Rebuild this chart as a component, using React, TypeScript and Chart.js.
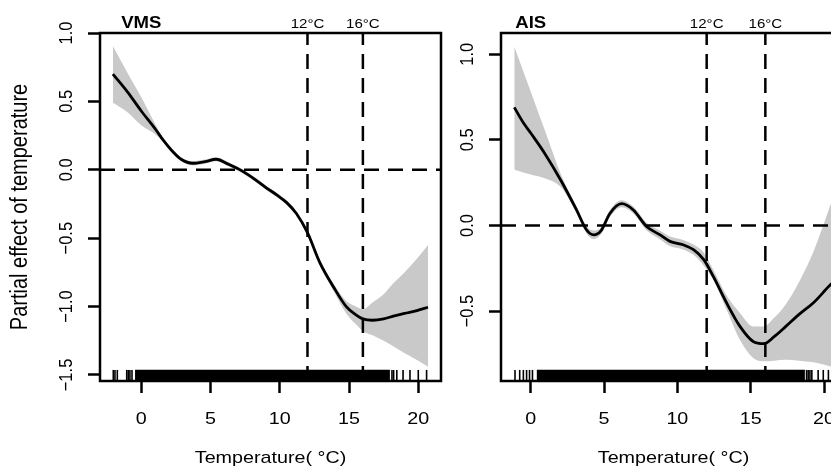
import React, { useEffect, useRef } from "react";
import { Chart, registerables } from "chart.js";

Chart.register(...registerables);

// ---------------- data ----------------
const xTicks = [0, 5, 10, 15, 20];
const refTemps = [12, 16];
const refLabels = ["12°C", "16°C"];
const xTitle = "Temperature( °C)";
const yTitle = "Partial effect of temperature";

// VMS panel
const vmsTemp = [-2.05, -1.0, 0.0, 1.0, 1.6, 2.3, 2.9, 3.7, 4.6, 5.4, 6.3, 7.3, 8.2, 9.0, 9.8, 10.5, 11.2, 12.0, 12.9, 13.9, 14.8, 15.5, 16.0, 16.7, 17.5, 18.2, 19.0, 19.9, 20.7];
const vmsFit = [0.70, 0.57, 0.43, 0.30, 0.215, 0.13, 0.075, 0.048, 0.06, 0.077, 0.04, -0.01, -0.07, -0.13, -0.185, -0.24, -0.32, -0.46, -0.68, -0.86, -1.0, -1.06, -1.09, -1.10, -1.09, -1.07, -1.05, -1.03, -1.005];
const vmsUpper = [0.905, 0.71, 0.53, 0.335, 0.228, 0.145, 0.09, 0.063, 0.075, 0.092, 0.055, 0.005, -0.055, -0.115, -0.17, -0.225, -0.305, -0.445, -0.66, -0.835, -0.96, -1.0, -1.02, -0.97, -0.91, -0.83, -0.75, -0.65, -0.55];
const vmsLower = [0.49, 0.42, 0.325, 0.26, 0.203, 0.115, 0.06, 0.033, 0.045, 0.062, 0.025, -0.025, -0.085, -0.145, -0.2, -0.255, -0.335, -0.475, -0.70, -0.89, -1.05, -1.13, -1.18, -1.21, -1.25, -1.29, -1.34, -1.39, -1.44];
const vmsRug = [-2.02, -1.9, -1.73, -1.05, -0.94, -0.82, -0.67, 18.1, 18.22, 18.45, 18.9, 19.4, 20.0, 20.6];
const vmsRugDense = [-0.45, 17.95];
const vmsYTicks = [-1.5, -1.0, -0.5, 0.0, 0.5, 1.0];

// AIS panel
const aisTemp = [-1.12, -0.5, 0.0, 1.0, 2.1, 3.1, 3.8, 4.3, 4.8, 5.4, 6.2, 7.0, 7.9, 8.8, 9.5, 10.4, 11.1, 11.8, 12.45, 13.36, 14.27, 15.17, 15.9, 16.6, 17.4, 18.3, 19.3, 20.4, 20.65];
const aisFit = [0.69, 0.60, 0.54, 0.415, 0.257, 0.095, -0.025, -0.055, -0.03, 0.07, 0.127, 0.09, -0.006, -0.054, -0.093, -0.113, -0.142, -0.2, -0.298, -0.453, -0.59, -0.678, -0.691, -0.65, -0.59, -0.52, -0.45, -0.35, -0.33];
const aisUpper = [1.046, 0.90, 0.782, 0.547, 0.29, 0.115, -0.005, -0.03, -0.01, 0.09, 0.147, 0.11, 0.016, -0.03, -0.065, -0.085, -0.112, -0.16, -0.259, -0.41, -0.512, -0.59, -0.59, -0.54, -0.46, -0.33, -0.15, 0.11, 0.17];
const aisLower = [0.325, 0.31, 0.298, 0.275, 0.22, 0.075, -0.045, -0.08, -0.05, 0.05, 0.107, 0.07, -0.028, -0.08, -0.12, -0.14, -0.172, -0.235, -0.317, -0.492, -0.668, -0.775, -0.794, -0.79, -0.785, -0.79, -0.80, -0.823, -0.83];
const aisRug = [-1.07, -0.75, -0.5, -0.28, -0.08, 0.12, 18.81, 18.92, 19.04, 19.17, 19.6, 19.95, 20.3, 20.6];
const aisRugDense = [0.4, 18.7];
const aisYTicks = [-0.5, 0.0, 0.5, 1.0];

// ---------------- styling ----------------
const FONT_FAMILY = '"Liberation Sans", Arial, Helvetica, sans-serif';
const SX = 1.16; // horizontal text stretch of the reference
const BAND = "#c9c9c9";

type Panel = {
  name: string;
  temp: number[];
  fit: number[];
  upper: number[];
  lower: number[];
  rug: number[];
  rugDense: number[];
  xMin: number;
  xMax: number;
  yMin: number;
  yMax: number;
  yTicks: number[];
  showYTitle: boolean;
  yWidth: number;
  padRight: number;
};

const panels: Panel[] = [
  {
    name: "VMS", temp: vmsTemp, fit: vmsFit, upper: vmsUpper, lower: vmsLower,
    rug: vmsRug, rugDense: vmsRugDense, xMin: -2.98, xMax: 21.64, yMin: -1.544, yMax: 1.0,
    yTicks: vmsYTicks, showYTitle: true, yWidth: 100, padRight: 9,
  },
  {
    name: "AIS", temp: aisTemp, fit: aisFit, upper: aisUpper, lower: aisLower,
    rug: aisRug, rugDense: aisRugDense, xMin: -2.025, xMax: 21.5, yMin: -0.909, yMax: 1.1245,
    yTicks: aisYTicks, showYTitle: false, yWidth: 51, padRight: 54,
  },
];

function txt(ctx: CanvasRenderingContext2D, s: string, x: number, y: number, font: string, rotate: boolean) {
  ctx.save();
  ctx.translate(x, y);
  ctx.scale(SX, 1);
  if (rotate) ctx.rotate(-Math.PI / 2);
  ctx.font = font;
  ctx.textAlign = "center";
  ctx.textBaseline = "alphabetic";
  ctx.fillText(s, 0, 0);
  ctx.restore();
}

const rChrome = {
  id: "rChrome",
  afterDraw(chart: any, _args: any, opts: any) {
    const { ctx, chartArea: a } = chart;
    const xs = chart.scales.x;
    const ys = chart.scales.y;
    ctx.save();
    ctx.setLineDash([]);
    ctx.strokeStyle = "#000";
    ctx.lineWidth = 2.5;
    ctx.strokeRect(a.left, a.top, a.right - a.left, a.bottom - a.top);
    ctx.fillStyle = "#000";
    const tickFont = `17px ${FONT_FAMILY}`;
    xs.ticks.forEach((t: any) =>
      txt(ctx, String(t.value), xs.getPixelForValue(t.value), a.bottom + 42.5, tickFont, false)
    );
    ys.ticks.forEach((t: any) =>
      txt(ctx, Number(t.value).toFixed(1).replace("-", "\u2212"), a.left - 28.3, ys.getPixelForValue(t.value), `16.5px ${FONT_FAMILY}`, true)
    );
    txt(ctx, xTitle, (a.left + a.right) / 2, a.bottom + 81.5, tickFont, false);
    if (opts.showYTitle) {
      txt(ctx, yTitle, a.left - 73.5, (a.top + a.bottom) / 2, `20px ${FONT_FAMILY}`, true);
    }
    txt(ctx, opts.name, xs.getPixelForValue(0), a.top - 4.7, `bold 16px ${FONT_FAMILY}`, false);
    refTemps.forEach((r, i) =>
      txt(ctx, refLabels[i], xs.getPixelForValue(r), a.top - 4.7, `13px ${FONT_FAMILY}`, false)
    );
    ctx.restore();
  },
};

function buildConfig(p: Panel): any {
  const range = p.yMax - p.yMin;
  const rugTop = p.yMin + 0.032 * range;
  const rugMid = p.yMin + 0.016 * range;
  const pts = (ys: number[]) => p.temp.map((x, i) => ({ x, y: ys[i] }));
  const line = (data: any[], extra: any) => ({
    data, borderColor: "#000", borderWidth: 2.5, pointRadius: 0, fill: false, ...extra,
  });
  const axisCommon = {
    type: "linear",
    ticks: { display: false },
    grid: { drawOnChartArea: false, drawTicks: true, tickLength: 12, tickWidth: 2.5, tickColor: "#000", color: "#000" },
    border: { display: false },
  };
  return {
    type: "line",
    data: {
      datasets: [
        { data: pts(p.upper), borderColor: "rgba(0,0,0,0)", borderWidth: 0, backgroundColor: BAND, fill: "+1", cubicInterpolationMode: "monotone", pointRadius: 0, order: 5 },
        { data: pts(p.lower), borderColor: "rgba(0,0,0,0)", borderWidth: 0, fill: false, cubicInterpolationMode: "monotone", pointRadius: 0, order: 5 },
        { data: p.rugDense.map((x) => ({ x, y: rugTop })), borderColor: "rgba(0,0,0,0)", borderWidth: 0, backgroundColor: "#000", fill: "start", pointRadius: 0, order: 4 },
        { data: p.rug.map((x) => ({ x, y: rugMid })), showLine: false, pointStyle: "line", pointRotation: 90, pointRadius: 5.5, pointBorderColor: "#000", pointBorderWidth: 1.6, order: 4 },
        line([{ x: p.xMin, y: 0 }, { x: p.xMax, y: 0 }], { borderDash: [15, 9], order: 2 }),
        ...refTemps.map((t) => line([{ x: t, y: p.yMin }, { x: t, y: p.yMax }], { borderDash: [15, 9], order: 2 })),
        line(pts(p.fit), { borderWidth: 2.8, cubicInterpolationMode: "monotone", order: 1 }),
      ],
    },
    options: {
      responsive: false,
      animation: false,
      events: [],
      layout: { padding: { left: 0, right: p.padRight, top: 33, bottom: 0 } },
      plugins: {
        legend: { display: false },
        tooltip: { enabled: false },
        title: { display: false },
        rChrome: { name: p.name, showYTitle: p.showYTitle },
      },
      scales: {
        x: {
          ...axisCommon,
          min: p.xMin,
          max: p.xMax,
          afterBuildTicks: (s: any) => { s.ticks = xTicks.map((v) => ({ value: v })); },
          afterFit: (s: any) => { s.height = 86; },
        },
        y: {
          ...axisCommon,
          min: p.yMin,
          max: p.yMax,
          afterBuildTicks: (s: any) => { s.ticks = p.yTicks.map((v) => ({ value: v })); },
          afterFit: (s: any) => { s.width = p.yWidth; },
        },
      },
    },
    plugins: [rChrome],
  };
}

export default function App() {
  const leftRef = useRef<HTMLCanvasElement | null>(null);
  const rightRef = useRef<HTMLCanvasElement | null>(null);

  useEffect(() => {
    const charts: Chart[] = [];
    if (leftRef.current) charts.push(new Chart(leftRef.current, buildConfig(panels[0])));
    if (rightRef.current) charts.push(new Chart(rightRef.current, buildConfig(panels[1])));
    return () => charts.forEach((c) => c.destroy());
  }, []);

  return (
    <div style={{ position: "fixed", left: 0, top: 0, width: 831, height: 467, overflow: "hidden", background: "#fff" }}>
      <canvas ref={leftRef} width={450} height={467} style={{ position: "absolute", left: 0, top: 0 }} />
      <canvas ref={rightRef} width={450} height={467} style={{ position: "absolute", left: 450, top: 0 }} />
    </div>
  );
}
